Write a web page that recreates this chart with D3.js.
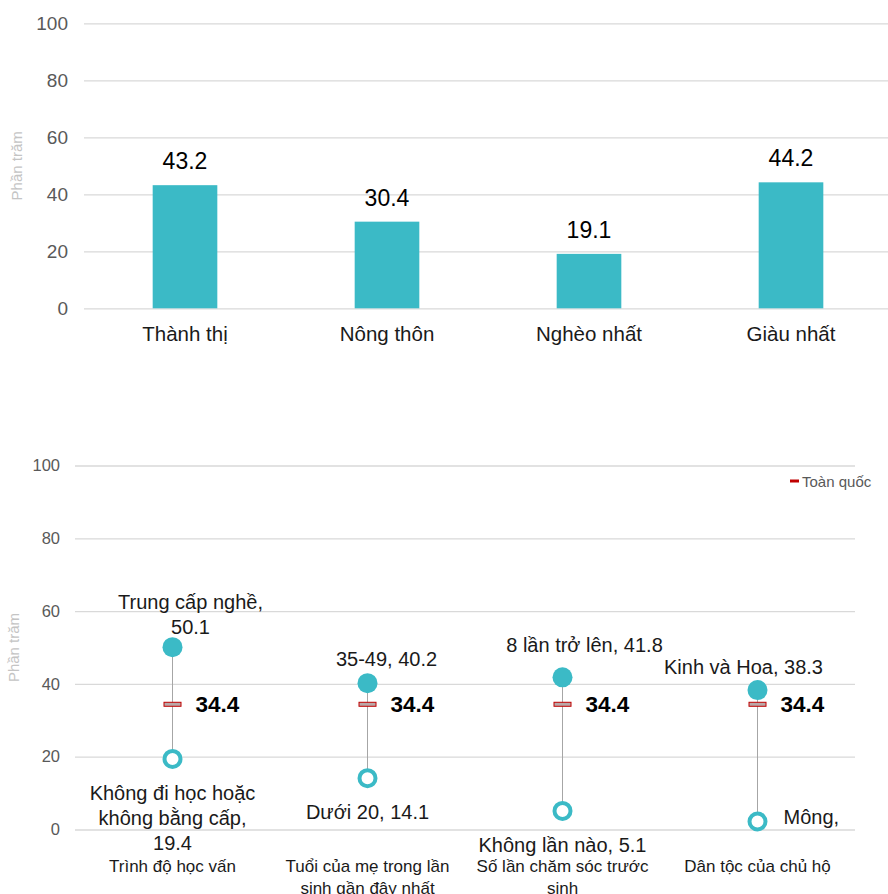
<!DOCTYPE html>
<html>
<head>
<meta charset="utf-8">
<script src="https://cdn.jsdelivr.net/npm/d3@7"></script>
<style>
  html, body { margin: 0; padding: 0; background: #fff; }
  svg { display: block; font-family: "Liberation Sans", Arial, sans-serif; }
</style>
</head>
<body>
<svg id="chart" width="888" height="894"></svg>
<script>
// Top panel: share by area / wealth
const areaCategories = ["Thành thị", "Nông thôn", "Nghèo nhất", "Giàu nhất"];
const areaValues = [43.2, 30.4, 19.1, 44.2];

// Shared value axis
const yTicks = [0, 20, 40, 60, 80, 100];
const yTitle = "Phần trăm";

// Bottom panel: range between lowest and highest group per characteristic
const groupLabels = [
  ["Trình độ học vấn"],
  ["Tuổi của mẹ trong lần", "sinh gần đây nhất"],
  ["Số lần chăm sóc trước", "sinh"],
  ["Dân tộc của chủ hộ"]
];
const highNames = ["Trung cấp nghề", "35-49", "8 lần trở lên", "Kinh và Hoa"];
const highValues = [50.1, 40.2, 41.8, 38.3];
const lowNames = ["Không đi học hoặc không bằng cấp", "Dưới 20", "Không lần nào", "Mông"];
const lowValues = [19.4, 14.1, 5.1, 2.2];
const nationalValue = 34.4;
const nationalLabel = "Toàn quốc";

const teal = "#3bbac6";
const gridColor = "#d9d9d9";
const tickColor = "#595959";
const svg = d3.select("#chart");

// ---------- top bar chart ----------
{
  const x = d3.scaleBand().domain(areaCategories).range([84, 892]).paddingInner(0.68).paddingOuter(0.34);
  const y = d3.scaleLinear().domain([0, 100]).range([308.3, 23.3]);
  const g = svg.append("g");

  const yAxis = d3.axisLeft(y).tickValues(yTicks).tickSize(-(888 - 84)).tickPadding(16);
  const ya = g.append("g").attr("transform", "translate(84,0)").call(yAxis);
  ya.select(".domain").remove();
  ya.selectAll(".tick line").attr("stroke", gridColor).attr("stroke-width", 1.3);
  ya.selectAll(".tick text").attr("fill", tickColor).attr("font-size", 19)
    .attr("font-family", "Liberation Sans, Arial, sans-serif");

  g.append("text").attr("transform", `translate(22,${y(50)}) rotate(-90)`)
    .attr("text-anchor", "middle").attr("fill", "#c4c4c4").attr("font-size", 15).text(yTitle);

  g.selectAll("rect.bar").data(areaValues).join("rect").attr("class", "bar")
    .attr("x", (d, i) => x(areaCategories[i])).attr("width", x.bandwidth())
    .attr("y", d => y(d)).attr("height", d => y(0) - y(d)).attr("fill", teal);

  g.selectAll("text.val").data(areaValues).join("text").attr("class", "val")
    .attr("x", (d, i) => x(areaCategories[i]) + x.bandwidth() / 2)
    .attr("y", d => y(d) - 16).attr("text-anchor", "middle")
    .attr("font-size", 23).attr("fill", "#000").text(d => d.toFixed(1));

  g.selectAll("text.cat").data(areaCategories).join("text").attr("class", "cat")
    .attr("x", d => x(d) + x.bandwidth() / 2).attr("y", 341)
    .attr("text-anchor", "middle").attr("font-size", 20.5).attr("fill", "#1a1a1a").text(d => d);
}

// ---------- bottom range chart ----------
{
  const keys = groupLabels.map((d, i) => i);
  const x = d3.scaleBand().domain(keys).range([75, 855]);
  const y = d3.scaleLinear().domain([0, 100]).range([829.5, 465.5]);
  const cx = i => x(i) + x.bandwidth() / 2;
  const g = svg.append("g");

  const yAxis = d3.axisLeft(y).tickValues(yTicks).tickSize(-(855 - 75)).tickPadding(15);
  const ya = g.append("g").attr("transform", "translate(75,0)").call(yAxis);
  ya.select(".domain").remove();
  ya.selectAll(".tick line").attr("stroke", gridColor).attr("stroke-width", 1.3);
  ya.selectAll(".tick text").attr("fill", tickColor).attr("font-size", 16.5)
    .attr("font-family", "Liberation Sans, Arial, sans-serif");

  g.append("text").attr("transform", `translate(19,${y(50)}) rotate(-90)`)
    .attr("text-anchor", "middle").attr("fill", "#c4c4c4").attr("font-size", 15).text(yTitle);

  // legend
  g.append("rect").attr("x", 790).attr("y", 479.5).attr("width", 9).attr("height", 3).attr("fill", "#c00000");
  g.append("text").attr("x", 802).attr("y", 487).attr("font-size", 15).attr("fill", tickColor).text(nationalLabel);

  // connecting lines
  g.selectAll("line.rng").data(keys).join("line").attr("class", "rng")
    .attr("x1", cx).attr("x2", cx)
    .attr("y1", i => y(highValues[i])).attr("y2", i => y(lowValues[i]))
    .attr("stroke", "#a6a6a6").attr("stroke-width", 1);

  // national marker
  g.selectAll("rect.nat").data(keys).join("rect").attr("class", "nat")
    .attr("x", i => cx(i) - 8.5).attr("y", y(nationalValue) - 2).attr("width", 17).attr("height", 4)
    .attr("fill", "#b9a9a9").attr("stroke", "#c00000").attr("stroke-width", 1);
  g.selectAll("text.nat").data(keys).join("text").attr("class", "nat")
    .attr("x", i => cx(i) + 23).attr("y", y(nationalValue) + 8)
    .attr("font-size", 22.5).attr("font-weight", "bold").attr("fill", "#000").text(nationalValue.toFixed(1));

  // high and low points
  g.selectAll("circle.hi").data(keys).join("circle").attr("class", "hi")
    .attr("cx", cx).attr("cy", i => y(highValues[i])).attr("r", 10).attr("fill", teal);
  g.selectAll("circle.lo").data(keys).join("circle").attr("class", "lo")
    .attr("cx", cx).attr("cy", i => y(lowValues[i])).attr("r", 8)
    .attr("fill", "#fff").attr("stroke", teal).attr("stroke-width", 4);

  // point labels: line breaks and offsets for each group
  const hiText = i => `${highNames[i]}, ${highValues[i].toFixed(1)}`;
  const loText = i => `${lowNames[i]}, ${lowValues[i].toFixed(1)}`;
  const hiLayout = [
    { dx: 18, dy: -13, lines: [`${highNames[0]},`, highValues[0].toFixed(1)] },
    { dx: 19, dy: -17, lines: [hiText(1)] },
    { dx: 22, dy: -25, lines: [hiText(2)] },
    { dx: -14, dy: -16, lines: [hiText(3)] }
  ];
  const loLayout = [
    { dx: 0, dy: 41, anchor: "middle", lines: ["Không đi học hoặc", "không bằng cấp,", lowValues[0].toFixed(1)] },
    { dx: 0, dy: 41, anchor: "middle", lines: [loText(1)] },
    { dx: 0, dy: 41, anchor: "middle", lines: [loText(2)] },
    { dx: 26, dy: 3, anchor: "start", lines: [`${lowNames[3]},`] }
  ];
  const lh = 25;
  keys.forEach(i => {
    const h = hiLayout[i];
    const ht = g.append("text").attr("text-anchor", "middle").attr("font-size", 20).attr("fill", "#1a1a1a");
    h.lines.forEach((s, k) => ht.append("tspan")
      .attr("x", cx(i) + h.dx)
      .attr("y", y(highValues[i]) + h.dy - (h.lines.length - 1 - k) * lh).text(s));
    const l = loLayout[i];
    const lt = g.append("text").attr("text-anchor", l.anchor).attr("font-size", 20).attr("fill", "#1a1a1a");
    l.lines.forEach((s, k) => lt.append("tspan")
      .attr("x", cx(i) + l.dx)
      .attr("y", y(lowValues[i]) + l.dy + k * lh).text(s));
  });

  // category labels
  keys.forEach(i => {
    const t = g.append("text").attr("text-anchor", "middle").attr("font-size", 17).attr("fill", "#1a1a1a");
    groupLabels[i].forEach((s, k) => t.append("tspan").attr("x", cx(i)).attr("y", 872 + k * 22).text(s));
  });
}
</script>
</body>
</html>
